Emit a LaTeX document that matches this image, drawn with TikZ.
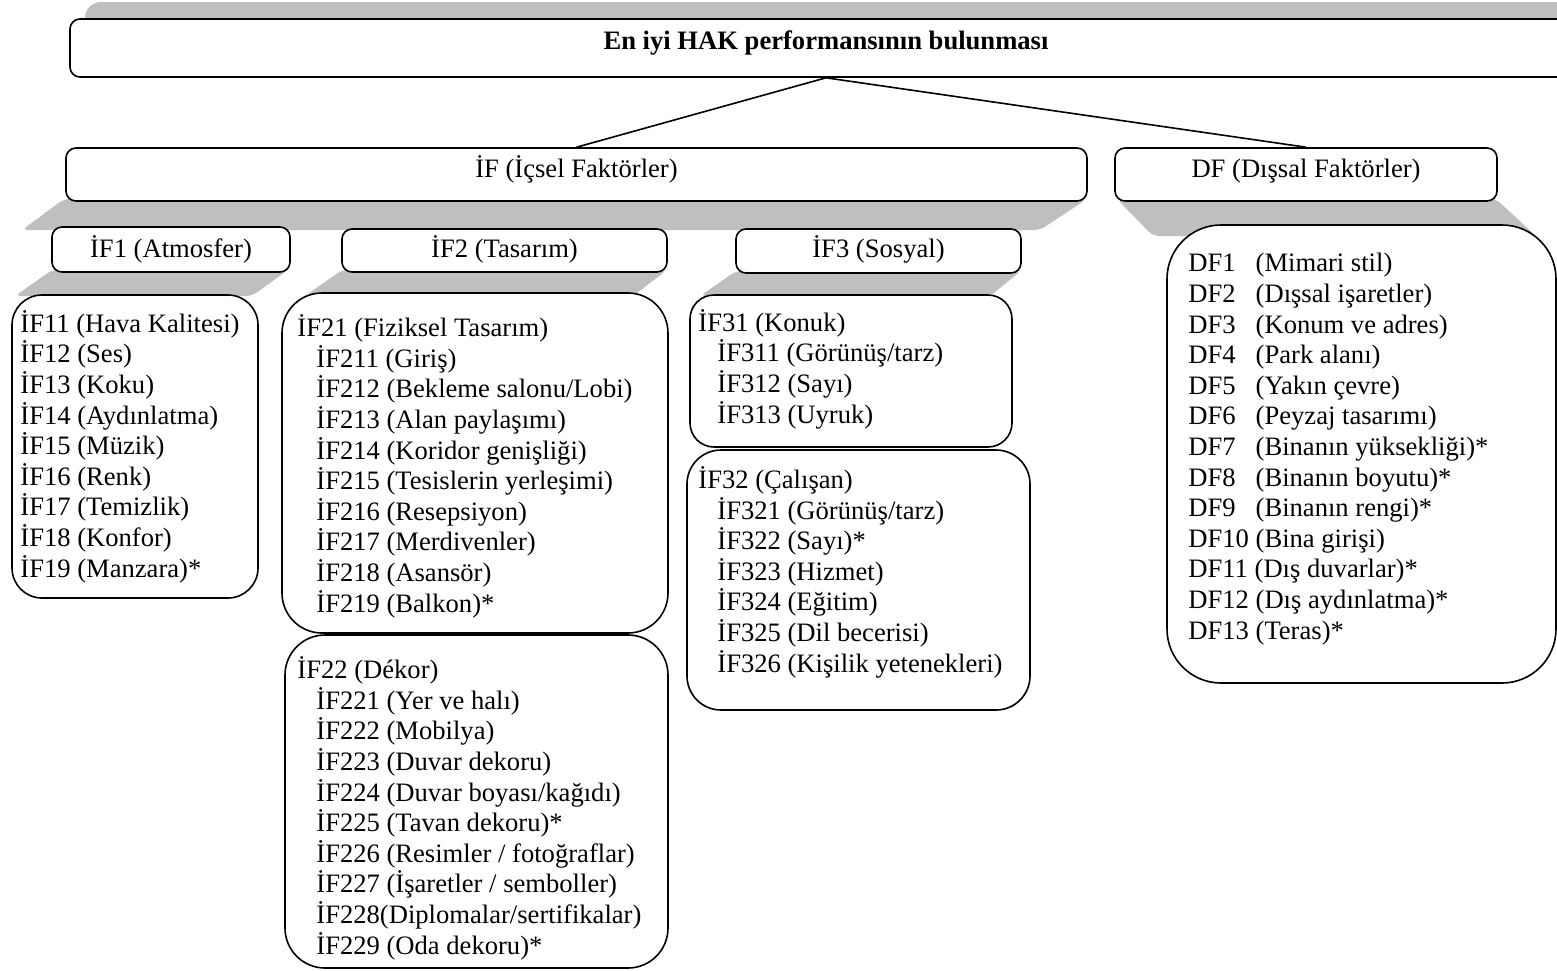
\documentclass[tikz,border=0pt]{standalone}
\usepackage{fontspec}
\setmainfont{Liberation Serif}
\begin{document}
\begin{tikzpicture}[x=0.5pt,y=-0.5pt,
  shadecol/.style={fill={rgb,255:red,191;green,191;blue,191}},
  bx/.style={draw=black, line width=0.8pt, fill=white, rectangle, inner sep=0pt},
  hdr/.style={bx, rounded corners=5pt},
  txt/.style={inner sep=0pt, font=\fontsize{13.3}{15.3}\selectfont, align=left},
  conn/.style={draw=black, line width=0.8pt}]
\useasboundingbox (0,0) rectangle (1557,970);

% shadows
\fill[shadecol, rounded corners=8pt] (85,2) rectangle (1620,45);
\fill[shadecol, rounded corners=3pt] (64,199) -- (1087,199) -- (1040,230) -- (22,230) -- cycle;
\fill[shadecol, rounded corners=3pt] (1117,199) -- (1496,199) -- (1536,236) -- (1153,236) -- cycle;
\fill[shadecol, rounded corners=3pt] (52,270) -- (288,270) -- (252,296) -- (15,296) -- cycle;
\fill[shadecol, rounded corners=3pt] (342,270) -- (667,270) -- (633,296) -- (305,296) -- cycle;
\fill[shadecol, rounded corners=3pt] (736,271) -- (1021,271) -- (990,296) -- (700,296) -- cycle;

% boxes
\node[hdr, minimum width=756pt, minimum height=29pt] (title) at (826,48) {};
\node[hdr, minimum width=510.5pt, minimum height=26.5pt] (IF) at (576.5,174.5) {};
\node[hdr, minimum width=191pt, minimum height=26.5pt] (DF) at (1306,174.5) {};
\node[hdr, minimum width=119pt, minimum height=22.5pt] (IF1) at (171,249.5) {};
\node[hdr, minimum width=162.5pt, minimum height=21.5pt] (IF2) at (504.5,250.5) {};
\node[hdr, minimum width=142.5pt, minimum height=22pt] (IF3) at (878.5,251) {};
\node[bx, rounded corners=15pt, minimum width=123pt, minimum height=151.5pt] (IF1list) at (135,446.5) {};
\node[bx, rounded corners=20pt, minimum width=193pt, minimum height=170pt] (IF21box) at (475,463) {};
\node[bx, rounded corners=20pt, minimum width=191.5pt, minimum height=166.5pt] (IF22box) at (476.5,801.5) {};
\node[bx, rounded corners=12pt, minimum width=161pt, minimum height=76pt] (IF31box) at (851,371) {};
\node[bx, rounded corners=17pt, minimum width=171.5pt, minimum height=130pt] (IF32box) at (858.5,580) {};
\node[bx, rounded corners=27pt, minimum width=194.5pt, minimum height=229pt] (DFlist) at (1361.5,454) {};

% connectors
\draw[conn] (title.south) -- (IF.north);
\draw[conn] (title.south) -- (DF.north);

% header texts
\node[txt, anchor=base, font=\fontsize{13.3}{15.3}\selectfont\bfseries] (titletxt) at (826,49) {En iyi HAK performansının bulunması};
\node[txt, anchor=base] (IFtxt) at (576.5,177) {İF (İçsel Faktörler)};
\node[txt, anchor=base] (DFtxt) at (1306,177) {DF (Dışsal Faktörler)};
\node[txt, anchor=base] (IF1txt) at (171,257) {İF1 (Atmosfer)};
\node[txt, anchor=base] (IF2txt) at (504.5,257) {İF2 (Tasarım)};
\node[txt, anchor=base] (IF3txt) at (878.5,257) {İF3 (Sosyal)};

% list texts (anchored at the baseline of their last line)
\newcommand\ind{\hspace*{9.5pt}}
\newcommand\dfc[1]{\makebox[2.53em][l]{#1}}
\node[txt, anchor=base west] (IF1listtxt) at (20,577) {İF11 (Hava Kalitesi)\\İF12 (Ses)\\İF13 (Koku)\\İF14 (Aydınlatma)\\İF15 (Müzik)\\İF16 (Renk)\\İF17 (Temizlik)\\İF18 (Konfor)\\İF19 (Manzara)*};
\node[txt, anchor=base west] (IF21txt) at (297,612) {İF21 (Fiziksel Tasarım)\\\ind İF211 (Giriş)\\\ind İF212 (Bekleme salonu/Lobi)\\\ind İF213 (Alan paylaşımı)\\\ind İF214 (Koridor genişliği)\\\ind İF215 (Tesislerin yerleşimi)\\\ind İF216 (Resepsiyon)\\\ind İF217 (Merdivenler)\\\ind İF218 (Asansör)\\\ind İF219 (Balkon)*};
\node[txt, anchor=base west] (IF22txt) at (297,954) {İF22 (Dékor)\\\ind İF221 (Yer ve halı)\\\ind İF222 (Mobilya)\\\ind İF223 (Duvar dekoru)\\\ind İF224 (Duvar boyası/kağıdı)\\\ind İF225 (Tavan dekoru)*\\\ind İF226 (Resimler / fotoğraflar)\\\ind İF227 (İşaretler / semboller)\\\ind İF228(Diplomalar/sertifikalar)\\\ind İF229 (Oda dekoru)*};
\node[txt, anchor=base west] (IF31txt) at (698,423) {İF31 (Konuk)\\\ind İF311 (Görünüş/tarz)\\\ind İF312 (Sayı)\\\ind İF313 (Uyruk)};
\node[txt, anchor=base west] (IF32txt) at (698,672) {İF32 (Çalışan)\\\ind İF321 (Görünüş/tarz)\\\ind İF322 (Sayı)*\\\ind İF323 (Hizmet)\\\ind İF324 (Eğitim)\\\ind İF325 (Dil becerisi)\\\ind İF326 (Kişilik yetenekleri)};
\node[txt, anchor=base west] (DFlisttxt) at (1188,639) {\dfc{DF1}(Mimari stil)\\\dfc{DF2}(Dışsal işaretler)\\\dfc{DF3}(Konum ve adres)\\\dfc{DF4}(Park alanı)\\\dfc{DF5}(Yakın çevre)\\\dfc{DF6}(Peyzaj tasarımı)\\\dfc{DF7}(Binanın yüksekliği)*\\\dfc{DF8}(Binanın boyutu)*\\\dfc{DF9}(Binanın rengi)*\\DF10 (Bina girişi)\\DF11 (Dış duvarlar)*\\DF12 (Dış aydınlatma)*\\DF13 (Teras)*};
\end{tikzpicture}
\end{document}
